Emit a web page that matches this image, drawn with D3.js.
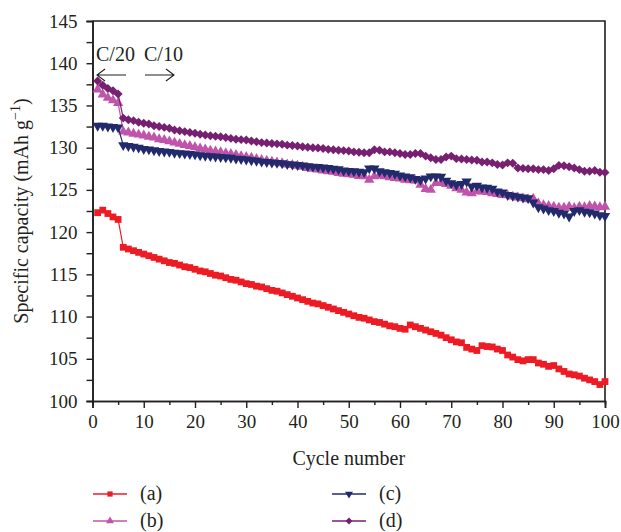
<!DOCTYPE html>
<html>
<head>
<meta charset="utf-8">
<script src="https://cdn.jsdelivr.net/npm/d3@7"></script>
<style>
  body { margin: 0; background: #fff; }
  svg text { font-family: "Liberation Serif", "Times New Roman", serif; fill: #231f20; }
</style>
</head>
<body>
<svg id="chart" width="621" height="532"></svg>
<script>
// cycle 1..100
var cycles = d3.range(1, 101);

var seriesA = [
  122.3, 122.6, 122.2, 121.8, 121.5, 118.2, 118.0, 117.8, 117.6, 117.4,
  117.2, 117.0, 116.8, 116.6, 116.4, 116.3, 116.1, 115.9, 115.8, 115.6,
  115.4, 115.3, 115.1, 114.9, 114.8, 114.6, 114.4, 114.3, 114.1, 113.9,
  113.8, 113.6, 113.5, 113.3, 113.1, 113.0, 112.8, 112.6, 112.4, 112.2,
  112.0, 111.8, 111.6, 111.5, 111.3, 111.1, 110.9, 110.7, 110.5, 110.3,
  110.1, 109.9, 109.8, 109.6, 109.4, 109.3, 109.1, 108.9, 108.8, 108.6,
  108.5, 109.0, 108.8, 108.6, 108.4, 108.2, 108.0, 107.8, 107.5, 107.25,
  107.0, 106.9, 106.35, 106.15, 105.98, 106.55, 106.45, 106.4, 106.15, 105.98,
  105.45, 105.2, 104.9, 104.75, 104.9, 104.9, 104.5, 104.35, 104.1, 104.2,
  103.8, 103.5, 103.2, 103.1, 102.95, 102.7, 102.5, 102.3, 101.95, 102.3
];

var seriesB = [
  136.9, 136.3, 135.9, 135.6, 135.3, 131.9, 131.8, 131.65, 131.55, 131.45,
  131.3, 131.2, 131.0, 130.9, 130.75, 130.6, 130.45, 130.3, 130.2, 130.05,
  129.9, 129.8, 129.65, 129.55, 129.45, 129.35, 129.25, 129.15, 129.0, 128.9,
  128.8, 128.65, 128.55, 128.45, 128.35, 128.25, 128.15, 128.0, 127.95, 127.85,
  127.75, 127.6, 127.5, 127.4, 127.3, 127.2, 127.15, 127.0, 126.9, 126.85,
  126.8, 126.65, 126.6, 126.2, 126.6, 126.7, 126.6, 126.5, 126.4, 126.35,
  126.2, 126.15, 126.1, 125.6, 125.1, 125.0, 125.8, 125.8, 125.7, 125.5,
  125.2, 125.0, 124.7, 124.6, 124.85, 124.8, 124.75, 124.6, 124.5, 124.4,
  124.35, 124.2, 124.1, 124.0, 123.9, 123.95, 123.4, 123.2, 123.1, 123.0,
  122.9, 122.9, 123.0, 122.85, 123.0, 122.95, 123.1, 123.05, 122.95, 123.0
];

var seriesC = [
  132.6, 132.6, 132.5, 132.45, 132.4, 130.3, 130.2, 130.1, 130.0, 129.85,
  129.8, 129.7, 129.6, 129.55, 129.5, 129.4, 129.35, 129.3, 129.25, 129.2,
  129.1, 129.05, 129.0, 128.95, 128.9, 128.85, 128.8, 128.7, 128.65, 128.6,
  128.5, 128.45, 128.35, 128.3, 128.25, 128.2, 128.15, 128.05, 128.0, 127.95,
  127.9, 127.8, 127.75, 127.7, 127.65, 127.6, 127.5, 127.45, 127.3, 127.25,
  127.2, 127.15, 127.1, 127.55, 127.55, 127.2, 127.1, 127.0, 126.9, 126.7,
  126.6, 126.5, 126.3, 126.2, 126.35, 126.6, 126.6, 126.55, 126.1, 125.8,
  125.6, 125.7, 126.0, 125.4, 125.5, 125.3, 125.25, 125.15, 124.8, 124.7,
  124.4, 124.3, 124.2, 124.1, 124.0, 123.5, 122.95, 122.8, 122.6, 122.5,
  122.3, 122.2, 121.85, 122.5, 122.6, 122.4, 122.35, 122.2, 122.0, 121.9
];

var seriesD = [
  137.9, 137.4, 137.0, 136.75, 136.35, 133.5, 133.3, 133.2, 133.0, 132.9,
  132.8, 132.6, 132.5, 132.4, 132.3, 132.1, 132.0, 131.9, 131.8, 131.7,
  131.6, 131.5, 131.4, 131.35, 131.3, 131.2, 131.1, 131.0, 130.95, 130.9,
  130.8, 130.7, 130.6, 130.55, 130.5, 130.45, 130.4, 130.3, 130.25, 130.2,
  130.1, 130.05, 130.0, 129.95, 129.9, 129.8, 129.75, 129.7, 129.65, 129.6,
  129.5, 129.45, 129.4, 129.4, 129.75, 129.7, 129.5, 129.5, 129.4, 129.3,
  129.2, 129.2, 129.3, 129.3, 129.0, 128.8, 128.6, 128.6, 128.9, 129.0,
  128.7, 128.65, 128.6, 128.55, 128.5, 128.3, 128.3, 128.2, 128.0, 127.95,
  128.2, 128.15, 127.6, 127.55, 127.5, 127.5, 127.4, 127.4, 127.3, 127.5,
  127.9, 127.85, 127.75, 127.6, 127.4, 127.2, 127.2, 127.3, 127.1, 127.05
];

var seriesNames = ['(a)', '(b)', '(c)', '(d)'];
var seriesColors = ['#ed1c24', '#c054ab', '#222a6c', '#771f70'];
var seriesValues = [seriesA, seriesB, seriesC, seriesD];

var xTicks = d3.range(0, 101, 10);
var yTicks = d3.range(100, 146, 5);

var svg = d3.select('#chart');

var x = d3.scaleLinear().domain([0, 100]).range([92.5, 605]);
var y = d3.scaleLinear().domain([100, 145]).range([401, 21]);

// marker shapes
var shapes = [
  { type: d3.symbolSquare, size: 46, rot: 0 },
  { type: d3.symbolTriangle, size: 46, rot: 0 },
  { type: d3.symbolTriangle, size: 46, rot: 180 },
  { type: d3.symbolSquare, size: 40, rot: 45 }
];

// axes: minor ticks first, then labelled major ticks
svg.append('g')
    .attr('class', 'axis')
    .attr('transform', 'translate(0,' + y(100) + ')')
    .call(d3.axisBottom(x).tickValues(d3.range(5, 100, 10)).tickSize(4).tickFormat(''));

svg.append('g')
    .attr('class', 'axis')
    .attr('transform', 'translate(0,' + y(100) + ')')
    .call(d3.axisBottom(x).tickValues(xTicks).tickSize(7).tickPadding(7));

svg.append('g')
    .attr('class', 'axis')
    .attr('transform', 'translate(' + x(0) + ',0)')
    .call(d3.axisLeft(y).tickValues(d3.range(102.5, 145, 5)).tickSize(6).tickFormat(''));

svg.append('g')
    .attr('class', 'axis')
    .attr('transform', 'translate(' + x(0) + ',0)')
    .call(d3.axisLeft(y).tickValues(yTicks).tickSize(6).tickPadding(9));

svg.selectAll('.axis path').attr('stroke', '#231f20').attr('stroke-width', 1.6);
svg.selectAll('.axis line').attr('stroke', '#231f20').attr('stroke-width', 1.4);
svg.selectAll('.axis text')
    .style('font-family', '"Liberation Serif", serif')
    .style('font-size', '19px')
    .attr('fill', '#231f20');

// top and right frame
svg.append('path')
    .attr('d', 'M' + x(0) + ',' + y(145) + 'H' + x(100) + 'V' + y(100))
    .attr('fill', 'none')
    .attr('stroke', '#231f20')
    .attr('stroke-width', 1.6);

// series
var line = d3.line()
    .x(function(d){ return x(d[0]); })
    .y(function(d){ return y(d[1]); });

seriesValues.forEach(function(vals, i){
  var pts = cycles.map(function(c, j){ return [c, vals[j]]; });
  var g = svg.append('g').attr('class', 'series');
  g.append('path')
      .datum(pts)
      .attr('d', line)
      .attr('fill', 'none')
      .attr('stroke', seriesColors[i])
      .attr('stroke-width', 1.2);
  g.selectAll('path.pt')
      .data(pts)
      .enter()
      .append('path')
      .attr('class', 'pt')
      .attr('d', d3.symbol().type(shapes[i].type).size(shapes[i].size))
      .attr('transform', function(d){
        return 'translate(' + x(d[0]) + ',' + y(d[1]) + ') rotate(' + shapes[i].rot + ')';
      })
      .attr('fill', seriesColors[i]);
});

// rate annotation
svg.append('text')
    .attr('x', 96).attr('y', 61)
    .style('font-size', '20px')
    .text('C/20');
svg.append('text')
    .attr('x', 144).attr('y', 61)
    .style('font-size', '20px')
    .text('C/10');

function arrow(x1, x2, yy){
  var dir = x2 > x1 ? -1 : 1;
  svg.append('path')
      .attr('d', 'M' + x1 + ',' + yy + 'H' + x2 +
                 'M' + (x2 + dir * 8) + ',' + (yy - 6) + 'L' + x2 + ',' + yy + 'L' + (x2 + dir * 8) + ',' + (yy + 6))
      .attr('fill', 'none')
      .attr('stroke', '#231f20')
      .attr('stroke-width', 1.1);
}
arrow(126, 97, 75);
arrow(145, 174, 75);

// axis titles
svg.append('text')
    .attr('x', (x(0) + x(100)) / 2)
    .attr('y', 465)
    .attr('text-anchor', 'middle')
    .style('font-size', '20px')
    .text('Cycle number');

var yTitle = svg.append('text')
    .attr('transform', 'translate(28,' + ((y(100) + y(145)) / 2) + ') rotate(-90)')
    .attr('text-anchor', 'middle')
    .style('font-size', '20px');
yTitle.append('tspan').text('Specific capacity (mAh g');
yTitle.append('tspan').attr('dy', -8).style('font-size', '14px').text('\u22121');
yTitle.append('tspan').attr('dy', 8).text(')');

// legend
var legendPos = [[93, 494], [93, 521], [332, 494], [332, 521]];
seriesNames.forEach(function(name, i){
  var lx = legendPos[i][0], ly = legendPos[i][1];
  var g = svg.append('g');
  g.append('line')
      .attr('x1', lx).attr('x2', lx + 34)
      .attr('y1', ly).attr('y2', ly)
      .attr('stroke', seriesColors[i])
      .attr('stroke-width', 1.6);
  g.append('path')
      .attr('d', d3.symbol().type(shapes[i].type).size(shapes[i].size * 0.6))
      .attr('transform', 'translate(' + (lx + 17) + ',' + ly + ') rotate(' + shapes[i].rot + ')')
      .attr('fill', seriesColors[i]);
  g.append('text')
      .attr('x', lx + 47).attr('y', ly + 6)
      .style('font-size', '20px')
      .text(name);
});
</script>
</body>
</html>
